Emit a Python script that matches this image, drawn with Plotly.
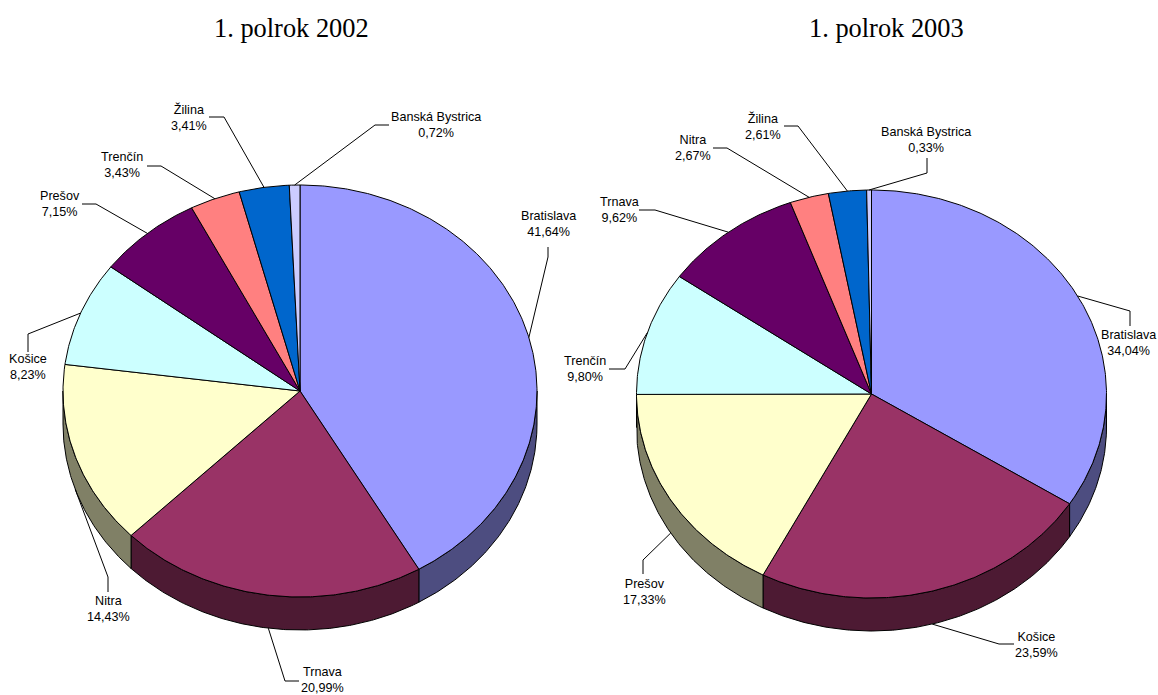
import math
import plotly.graph_objects as go

TITLE_2002 = "1. polrok 2002"
TITLE_2003 = "1. polrok 2003"

REGIONS_2002 = ["Bratislava", "Trnava", "Nitra", "Košice", "Prešov", "Trenčín", "Žilina", "Banská Bystrica"]
SHARES_2002 = [41.64, 20.99, 14.43, 8.23, 7.15, 3.43, 3.41, 0.72]

REGIONS_2003 = ["Bratislava", "Košice", "Prešov", "Trenčín", "Trnava", "Nitra", "Žilina", "Banská Bystrica"]
SHARES_2003 = [34.04, 23.59, 17.33, 9.80, 9.62, 2.67, 2.61, 0.33]

# styles, by slice order
TOP_COLORS = ["#9999FF", "#993366", "#FFFFCC", "#CCFFFF", "#660066", "#FF8080", "#0066CC", "#CCCCFF"]
SIDE_COLORS = ["#4D4D80", "#4D1A33", "#808066", "#668080", "#330033", "#804040", "#003366", "#666680"]

# pie geometry in page pixels
PIE_2002 = dict(cx=300, cy=391, rx=237, ry=206, depth=33)
PIE_2003 = dict(cx=871.5, cy=394, rx=235, ry=204, depth=33)

# leader elbows and label centres, in page pixels
ELBOWS_2002 = [[(548, 257), (548, 247)], [(285, 681), (299, 681)], [(108, 577), (108, 592)],
               [(28, 334), (28, 352)], [(96, 204), (82, 204)], [(161, 166), (147, 166)],
               [(224, 117), (209, 117)], [(375, 125), (389, 125)]]
LABELS_2002 = [(548, 224), (322, 680), (108, 609), (28, 367), (60, 204), (122, 165), (189, 117), (435.5, 125)]
ELBOWS_2003 = [[(1130, 311), (1130, 326)], [(999, 644), (1014, 644)], [(643, 560), (643, 574)],
               [(625, 369), (609, 369)], [(655, 210), (639, 210)], [(727, 148), (713, 148)],
               [(798, 126), (784, 126)], [(927, 173), (927, 158)]]
LABELS_2003 = [(1128.5, 343), (1036, 645), (644, 592), (585, 368.5), (619, 210), (693, 148), (763, 126), (926, 140)]

fig = go.Figure()
LABEL_FONT = dict(family="Liberation Sans", size=12.6, color="#000000")


def point(pie, deg, drop=0.0):
    a = math.radians(deg)
    return pie["cx"] + pie["rx"] * math.sin(a), pie["cy"] - pie["ry"] * math.cos(a) + drop


def arc(pie, a0, a1, drop=0.0):
    steps = max(2, int(abs(a1 - a0) * 2))
    pts = [point(pie, a0 + (a1 - a0) * i / steps, drop) for i in range(steps + 1)]
    return pts


def poly(pts, color):
    fig.add_trace(go.Scatter(
        x=[p[0] for p in pts] + [pts[0][0]], y=[p[1] for p in pts] + [pts[0][1]],
        mode="lines", fill="toself", fillcolor=color,
        line=dict(color="#000000", width=1), hoverinfo="skip", showlegend=False))


def draw_pie(pie, names, shares, elbows, labels):
    total = sum(shares)
    edges = [0.0]
    for v in shares:
        edges.append(edges[-1] + v / total * 360)
    # side walls first: only the front half of the rim shows
    for i in range(len(shares)):
        a0, a1 = max(edges[i], 90), min(edges[i + 1], 270)
        if a1 > a0:
            poly(arc(pie, a0, a1) + arc(pie, a1, a0, pie["depth"]), SIDE_COLORS[i])
    # top faces
    for i in range(len(shares)):
        poly([(pie["cx"], pie["cy"])] + arc(pie, edges[i], edges[i + 1]), TOP_COLORS[i])
    # leaders and labels
    for i, (name, v) in enumerate(zip(names, shares)):
        mid = (edges[i] + edges[i + 1]) / 2
        drop = pie["depth"] if 90 < mid < 270 else 0
        pts = [point(pie, mid, drop)] + elbows[i]
        fig.add_trace(go.Scatter(x=[p[0] for p in pts], y=[p[1] for p in pts], mode="lines",
                                 line=dict(color="#000000", width=1), hoverinfo="skip", showlegend=False))
        fig.add_annotation(x=labels[i][0], y=labels[i][1], showarrow=False, align="center",
                           text=f"{name}<br>{v:.2f}%".replace(".", ","), font=LABEL_FONT)


draw_pie(PIE_2002, REGIONS_2002, SHARES_2002, ELBOWS_2002, LABELS_2002)
draw_pie(PIE_2003, REGIONS_2003, SHARES_2003, ELBOWS_2003, LABELS_2003)

TITLE_FONT = dict(family="Liberation Serif", size=26.4, color="#000000")
fig.add_annotation(x=291, y=28, text=TITLE_2002, showarrow=False, font=TITLE_FONT)
fig.add_annotation(x=886.5, y=28, text=TITLE_2003, showarrow=False, font=TITLE_FONT)

fig.update_layout(
    width=1158, height=695, margin=dict(l=0, r=0, t=0, b=0),
    paper_bgcolor="#FFFFFF", plot_bgcolor="#FFFFFF", showlegend=False,
    xaxis=dict(range=[0, 1158], visible=False, fixedrange=True),
    yaxis=dict(range=[695, 0], visible=False, fixedrange=True),
)
fig.write_html("out.html", config={"displayModeBar": False},
               post_script="document.body.style.margin='0';")
